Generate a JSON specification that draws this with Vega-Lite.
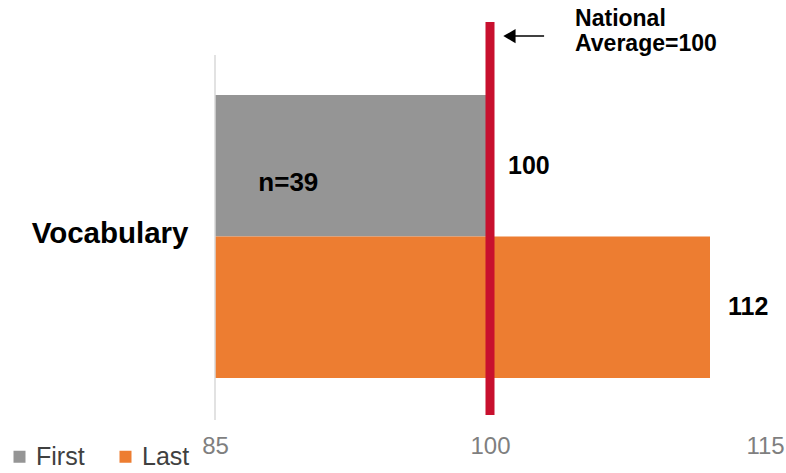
{
  "$schema": "https://vega.github.io/schema/vega-lite/v6.json",
  "width": 550,
  "height": 430,
  "autosize": {"type": "none"},
  "padding": {"left": 215, "top": 0, "right": 21, "bottom": 43},
  "background": "white",
  "config": {"view": {"stroke": null}, "font": "Liberation Sans"},
  "layer": [
    {
      "data": {"values": [
        {"test": "Vocabulary", "series": "First", "score": 100},
        {"test": "Vocabulary", "series": "Last", "score": 112}
      ]},
      "encoding": {
        "y": {"field": "test", "type": "nominal",
          "scale": {"paddingInner": 0, "paddingOuter": 0.26, "align": 0.646},
          "axis": {"title": null, "domain": false, "ticks": false, "labelFontSize": 29.5, "labelFontWeight": "bold", "labelColor": "#000000", "labelPadding": 27, "labelOffset": -2}},
        "yOffset": {"field": "series", "type": "nominal", "scale": {"domain": ["First", "Last"], "paddingInner": 0, "paddingOuter": 0}},
        "x": {"field": "score", "type": "quantitative",
          "scale": {"domain": [85, 115], "zero": false, "nice": false},
          "axis": {"values": [85, 100, 115], "title": null, "grid": false, "domain": false, "ticks": false, "labelFontSize": 24, "labelColor": "#7f7f7f", "labelPadding": 4, "labelFlush": false}}
      },
      "layer": [
        {
          "mark": {"type": "bar"},
          "encoding": {
            "x2": {"datum": 85},
            "color": {"field": "series", "type": "nominal",
              "scale": {"domain": ["First", "Last"], "range": ["#959595", "#ED7D31"]},
              "legend": {"title": null, "orient": "none", "legendX": -208, "legendY": 444, "direction": "horizontal", "symbolType": "square", "symbolSize": 144, "symbolStrokeWidth": 0, "labelFontSize": 25, "labelColor": "#404040", "labelOffset": 4, "columnPadding": 28}}
          }
        },
        {
          "mark": {"type": "text", "align": "left", "baseline": "middle", "dx": 18, "fontSize": 25, "fontWeight": "bold", "color": "#000000"},
          "encoding": {"text": {"field": "score", "type": "quantitative"}}
        }
      ]
    },
    {
      "layer": [
        {
          "data": {"values": [{}]},
          "mark": {"type": "rule", "color": "#d9d9d9", "strokeWidth": 1.5},
          "encoding": {
            "x": {"datum": 85, "type": "quantitative"},
            "y": {"datum": 2.3, "type": "quantitative", "scale": {"domain": [0, 100], "nice": false, "zero": false}, "axis": null},
            "y2": {"datum": 87.2}
          }
        },
        {
          "data": {"values": [{"average": 100}]},
          "mark": {"type": "rule", "color": "#C8102E", "strokeWidth": 9},
          "encoding": {
            "x": {"field": "average", "type": "quantitative"},
            "y": {"datum": 3.5, "type": "quantitative", "axis": null},
            "y2": {"datum": 94.9}
          }
        },
        {
          "data": {"values": [{}]},
          "mark": {"type": "rule", "color": "#000000", "strokeWidth": 1.5},
          "encoding": {
            "x": {"datum": 102.95, "type": "quantitative"},
            "x2": {"datum": 101.1},
            "y": {"datum": 91.6, "type": "quantitative", "axis": null}
          }
        },
        {
          "data": {"values": [{}]},
          "mark": {"type": "point", "shape": "triangle-left", "filled": true, "color": "#000000", "size": 200, "opacity": 1},
          "encoding": {
            "x": {"datum": 101.06, "type": "quantitative"},
            "y": {"datum": 91.6, "type": "quantitative", "axis": null}
          }
        },
        {
          "data": {"values": [{}]},
          "mark": {"type": "text", "text": ["National", "Average=100"], "align": "left", "baseline": "alphabetic", "lineHeight": 25, "fontSize": 23, "fontWeight": "bold", "color": "#000000"},
          "encoding": {
            "x": {"datum": 104.64, "type": "quantitative"},
            "y": {"datum": 94.0, "type": "quantitative", "axis": null}
          }
        },
        {
          "data": {"values": [{}]},
          "mark": {"type": "text", "text": "n=39", "align": "center", "baseline": "middle", "fontSize": 26, "fontWeight": "bold", "color": "#000000"},
          "encoding": {
            "x": {"datum": 89, "type": "quantitative"},
            "y": {"datum": 57.4, "type": "quantitative", "axis": null}
          }
        }
      ]
    }
  ],
  "resolve": {"scale": {"y": "independent"}}
}
